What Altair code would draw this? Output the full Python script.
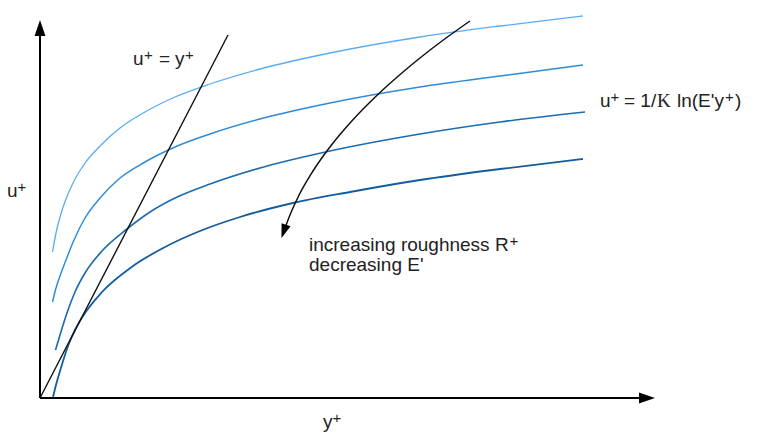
import altair as alt
import pandas as pd

# ---- values (chart units: origin at the axes corner) ----
c1_x = [12.5, 16, 20, 26, 34, 45, 60, 80, 105, 135, 170, 220, 290, 380, 460, 543]
c1_y = [146, 165, 181, 199, 217, 235, 252, 270, 286, 301, 314, 329, 345, 361, 372, 382]
c2_x = [12.5, 16, 20, 26, 34, 45, 60, 80, 105, 135, 170, 220, 290, 380, 460, 543]
c2_y = [96, 110, 122, 138, 158, 180, 200, 220, 236, 251, 264, 279, 295, 311, 322, 333]
c3_x = [15.5, 20, 24, 28, 35, 45, 62, 87, 110, 135, 170, 220, 290, 380, 460, 545]
c3_y = [48, 63, 76, 88, 106, 125, 147, 169, 186, 200, 214, 230, 247, 264, 276, 286]
c4_x = [13, 16, 20, 24, 28, 35, 43, 62, 93, 125, 160, 200, 253, 310, 380, 460, 543]
c4_y = [1, 13, 27, 40, 52, 68, 82, 106, 132, 151, 167, 181, 195, 206, 218, 229, 239]

lin_x = [0, 188]          # u+ = y+
lin_y = [0, 363]

arr_x = [430, 408.8, 388.8, 364.2, 336.3, 311.8, 290.7, 273, 258.6, 248, 245.8]
arr_y = [377, 362, 347, 327, 302, 277, 252, 227, 202, 178, 172]

series = ["c1", "c2", "c3", "c4"]
colors = ["#5aacf2", "#2f8bd8", "#1c6cb0", "#135c9e"]
widths = [1.3, 1.8, 2.2, 2.6]

rows = []
for name, xs, ys in zip(series, [c1_x, c2_x, c3_x, c4_x], [c1_y, c2_y, c3_y, c4_y]):
    for i, (a, b) in enumerate(zip(xs, ys)):
        rows.append({"series": name, "i": i, "x": a, "y": b})
curves = pd.DataFrame(rows)

X = alt.Scale(domain=[-40, 722], nice=False, zero=False)
Y = alt.Scale(domain=[-44, 398], nice=False, zero=False)

def xe(f="x"):
    return alt.X(f + ":Q", scale=X, axis=None)

def ye(f="y"):
    return alt.Y(f + ":Q", scale=Y, axis=None)

curve_layer = alt.Chart(curves).mark_line(interpolate="monotone").encode(
    x=xe(), y=ye(),
    color=alt.Color("series:N", scale=alt.Scale(domain=series, range=colors), legend=None),
    strokeWidth=alt.StrokeWidth("series:N", scale=alt.Scale(domain=series, range=widths), legend=None),
    order="i:Q",
)

lin_layer = alt.Chart(pd.DataFrame({"x": lin_x, "y": lin_y})).mark_line(
    color="#111111", strokeWidth=1.4).encode(x=xe(), y=ye())

arr_df = pd.DataFrame({"x": arr_x, "y": arr_y, "i": list(range(len(arr_x)))})
arr_layer = alt.Chart(arr_df).mark_line(
    color="#111111", strokeWidth=1.5, interpolate="monotone").encode(x=xe(), y=ye(), order="i:Q")

axes_df = pd.DataFrame({"x": [0, 0, 0, 600], "y": [364, 0, 0, 0], "k": ["a", "a", "b", "b"]})
axes_layer = alt.Chart(axes_df).mark_line(color="#000000", strokeWidth=2).encode(
    x=xe(), y=ye(), detail="k:N")

heads_df = pd.DataFrame({"x": [0, 615, 241.5], "y": [378, 0, 160],
                         "angle": [0, 90, 199], "size": [256, 256, 196]})
heads_layer = alt.Chart(heads_df).mark_point(
    shape="M0,0L-0.68,2L0.68,2Z", filled=True, color="#000000", opacity=1, strokeWidth=0
).encode(x=xe(), y=ye(), angle=alt.Angle("angle:Q", scale=None), size=alt.Size("size:Q", scale=None))

# text pieces (superscript "+" drawn smaller and raised)
lab_text = ["u", "+", "=", "y", "+",
            "u", "+",
            "y", "+",
            "u", "+", "= 1/", "ln(E'y", "+", ")",
            "increasing roughness R", "+",
            "decreasing E'"]
lab_x = [93, 104, 119, 135, 145,
         -33, -22.5,
         283, 292.5,
         560, 570.5, 584, 637, 685, 695,
         269, 469.5,
         269]
lab_y = [333, 338, 333, 333, 338,
         201, 206,
         -30, -25,
         291, 296, 291, 291, 296, 291,
         147, 152,
         127]
lab_size = [19, 15, 19, 19, 15,
            19, 15,
            19, 15,
            19, 15, 19, 19, 15, 19,
            19, 15,
            19]
labels = pd.DataFrame({"x": lab_x, "y": lab_y, "t": lab_text, "s": lab_size})
text_layer = alt.Chart(labels).mark_text(
    align="left", baseline="alphabetic", font="Liberation Sans", color="#222222"
).encode(x=xe(), y=ye(), text="t:N", size=alt.Size("s:Q", scale=None))

k_df = pd.DataFrame({"x": [617], "y": [291], "t": ["K"]})
k_layer = alt.Chart(k_df).mark_text(
    align="left", baseline="alphabetic", font="Liberation Serif", fontSize=19, color="#222222"
).encode(x=xe(), y=ye(), text="t:N")

chart = alt.layer(curve_layer, lin_layer, arr_layer, axes_layer, heads_layer, text_layer, k_layer).properties(
    width=762, height=442, padding=0, autosize=alt.AutoSizeParams(type="none"),
    background="white",
).configure_view(stroke=None)

chart.save("out.html", embed_options={"renderer": "svg", "actions": False})
